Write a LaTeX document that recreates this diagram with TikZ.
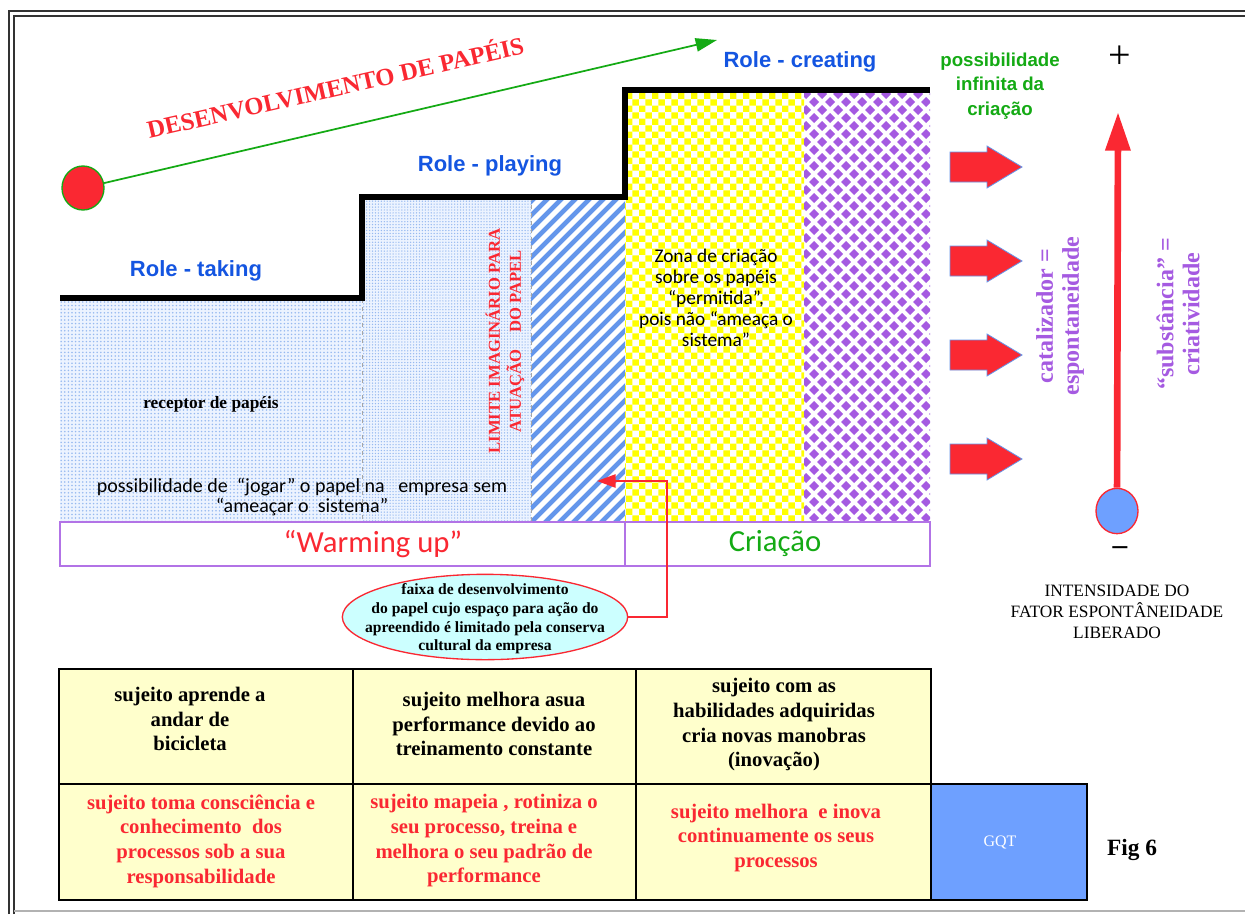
\documentclass[tikz,border=0pt]{standalone}
\usepackage{fontspec}
\setmainfont{Liberation Serif}
\setsansfont{Liberation Sans}
\newfontfamily\calibrifont{Carlito}
\usetikzlibrary{patterns.meta,arrows.meta,shapes.geometric}

\definecolor{rolered}{RGB}{250,40,50}
\definecolor{roleblue}{RGB}{20,85,225}
\definecolor{rolegreen}{RGB}{20,170,20}
\definecolor{rolepurple}{RGB}{165,90,225}
\definecolor{dotblue}{RGB}{150,185,240}
\definecolor{dotbg}{RGB}{236,243,255}
\definecolor{stripeblue}{RGB}{100,150,235}
\definecolor{checkyellow}{RGB}{255,255,0}
\definecolor{tabyellow}{RGB}{255,255,204}
\definecolor{ellcyan}{RGB}{204,255,255}
\definecolor{gqtblue}{RGB}{110,160,255}

\newcommand{\fsz}[2]{\fontsize{#1}{#2}\selectfont}

\tikzdeclarepattern{
  name=yellowcheck,
  type=uncolored,
  bounding box={(0pt,0pt) and (10pt,10pt)},
  tile size={(10pt,10pt)},
  code={
    \fill (0pt,0pt) rectangle (5pt,5pt);
    \fill (5pt,5pt) rectangle (10pt,10pt);
  }
}

\begin{document}
\begin{tikzpicture}[
  x=0.75pt, y=-0.75pt,
  role/.style={font=\sffamily\bfseries\fsz{16.5}{20}, text=roleblue},
  vtext/.style={rotate=90, align=center, font=\bfseries\fsz{18}{19.5}, text=rolepurple},
  tabtext/.style={align=center, font=\bfseries\fsz{15.5}{18.5}},
  dot/.style={ellipse, line width=1pt, inner sep=0, minimum width=31.5pt, minimum height=33pt},
  barline/.style={draw=rolepurple!85, line width=1.2pt},
  blockarr/.style={fill=rolered, draw=stripeblue, line width=0.6pt},
  ]
  \useasboundingbox (0,0) rectangle (1245,914);
  \fill[white] (0,0) rectangle (1245,914);
  % frame
  \draw[line width=1.3pt, black!80] (9,914) -- (9,11) -- (1250,11);
  \draw[line width=1pt, black!80] (14,914) -- (14,16) -- (1250,16);
  \draw[line width=1pt, black!30] (14,911) -- (1250,911);

  % zones
  \fill[dotbg] (60,299) rectangle (362,522);
  \fill[pattern={Dots[radius=0.65pt,distance=2.7pt]}, pattern color=dotblue] (60,299) rectangle (362,522);
  \fill[dotbg] (362,197) rectangle (531,522);
  \fill[pattern={Dots[radius=0.55pt,distance=2.2pt]}, pattern color=dotblue] (362,197) rectangle (531,522);
  \fill[pattern={Lines[angle=45,distance=7.4pt,line width=3.6pt]}, pattern color=stripeblue] (531,197) rectangle (625,522);
  \fill[pattern=yellowcheck, pattern color=checkyellow] (625,90) rectangle (804,522);
  \begin{scope}
    \clip (804,90) rectangle (930,522);
    \foreach \dy in {0,...,54}
      \foreach \dx in {0,...,8}
        \fill[rolepurple] ({806+16*\dx+8*mod(\dy,2)},{94+8*\dy})
          +(0,-5) -- +(5,0) -- +(0,5) -- +(-5,0) -- cycle;
  \end{scope}
  \draw[black!35, dashed, thin] (362,299) -- (362,522) (531,197) -- (531,522);
  \draw[line width=3.8pt] (60,298) -- (362,298) -- (362,197) -- (625,197) -- (625,90) -- (930,90);

  % bar
  \draw[barline] (60,522) rectangle (625,566);
  \draw[barline] (625,522) rectangle (930,566);
  \node[font=\calibrifont\fsz{23}{24}, text=rolered] (warm) at (373,544) {“Warming up”};
  \node[font=\calibrifont\fsz{23}{24}, text=rolegreen] (criacao) at (775,544) {Criação};

  % titles
  \node[rotate=12.8, font=\bfseries\fsz{18.5}{20}, text=rolered] (devTitle) at (335,86) {DESENVOLVIMENTO DE PAPÉIS};
  \node[dot, draw=rolegreen, fill=rolered] (startDot) at (83,188) {};
  \coordinate (devTip) at (717,40);
  \draw[rolegreen, line width=1.3pt, -{Triangle[length=16pt,width=10pt]}] (startDot) -- (devTip);
  \node[role] (roleTaking) at (196,271) {Role - taking};
  \node[role] (rolePlaying) at (490,166) {Role - playing};
  \node[role] (roleCreating) at (800,62) {Role - creating};

  % zone texts
  \node[font=\bfseries\fsz{13}{15}] (receptor) at (211,404) {receptor de papéis};
  \node[align=center, font=\calibrifont\fsz{15}{15.5}] (jogar) at (302,497)
    {possibilidade de~ “jogar” o papel na~~ empresa sem\\“ameaçar o~ sistema”};
  \node[rotate=90, align=center, font=\bfseries\fsz{12.5}{15.75}, text=rolered] (limite) at (505,341)
    {LIMITE IMAGINÁRIO PARA\\ATUAÇÃO~~~~DO PAPEL};
  \node[align=center, font=\calibrifont\fsz{14.5}{15.75}] (zona) at (716,298)
    {Zona de criação\\sobre os papéis\\“permitida”,\\pois não “ameaça o\\sistema”};

  % right side
  \node[align=center, font=\sffamily\bfseries\fsz{14}{18.5}, text=rolegreen] (infinite) at (1000,86)
    {possibilidade\\infinita da\\criação};
  \foreach \ay in {167,261,355,459}
    \filldraw[blockarr] (950,\ay-15) -- (987,\ay-15) -- (987,\ay-21) -- (1022,\ay)
      -- (987,\ay+21) -- (987,\ay+15) -- (950,\ay+15) -- cycle;
  \node[vtext] (catal) at (1060,316) {catalizador =\\espontaneidade};
  \node[vtext] (subst) at (1178,314) {“substância” =\\criatividade};
  \node[font=\fsz{30}{30}] (plus) at (1120,57) {+};
  \node[dot, draw=rolered, fill=gqtblue, minimum height=34pt] (spont) at (1117,511) {};
  \coordinate (plusTip) at (1118,112);
  \draw[rolered, line width=5pt, -{Triangle[length=29pt,width=18pt]}] (spont) -- (plusTip);
  \node[font=\bfseries\fsz{22}{22}] (minus) at (1120,551) {–};
  \node[align=center, font=\fsz{13}{15.75}] (intens) at (1117,612)
    {INTENSIDADE DO\\FATOR ESPONTÂNEIDADE\\LIBERADO};

  % ellipse and connector
  \node[ellipse, draw=rolered, fill=ellcyan, line width=1pt, inner sep=0,
    minimum width=214pt, minimum height=64pt] (faixa) at (485,617) {};
  \node[align=center, font=\bfseries\fsz{11.7}{14}] (faixaText) at (485,619)
    {faixa de desenvolvimento\\do papel cujo espaço para ação do\\apreendido é limitado pela conserva\\cultural da empresa};
  \coordinate (bend) at (667,481);
  \coordinate (limTip) at (597,481);
  \draw[rolered, line width=1.1pt, -{Triangle[length=14pt,width=10pt]}] (faixa.east) -| (bend) -- (limTip);

  % table
  \fill[tabyellow] (59,669) rectangle (931,900);
  \fill[gqtblue] (931,784) rectangle (1087,900);
  \draw[line width=1.4pt] (59,669) rectangle (931,900) (59,784) -- (931,784)
    (353,669) -- (353,900) (636,669) -- (636,900) (931,784) rectangle (1087,900);
  \node[tabtext] (learnA) at (190,719) {sujeito aprende a\\andar de\\bicicleta};
  \node[tabtext] (learnB) at (494,724) {sujeito melhora asua\\performance devido ao\\treinamento constante};
  \node[tabtext] (learnC) at (774,725) {sujeito com as\\habilidades adquiridas\\cria novas manobras\\(inovação)};
  \node[tabtext, text=rolered] (procA) at (201,841) {sujeito toma consciência e\\conhecimento~ dos\\processos sob a sua\\responsabilidade};
  \node[tabtext, text=rolered] (procB) at (484,841) {sujeito mapeia , rotiniza o\\seu processo, treina e\\melhora o seu padrão de\\performance};
  \node[tabtext, text=rolered] (procC) at (776,838) {sujeito melhora~ e inova\\continuamente os seus\\processos};
  \node[text=white, font=\fsz{12}{14}] (gqt) at (1000,842) {GQT};
  \node[font=\bfseries\fsz{17.5}{20}] (fig) at (1132,850) {Fig 6};
\end{tikzpicture}
\end{document}
